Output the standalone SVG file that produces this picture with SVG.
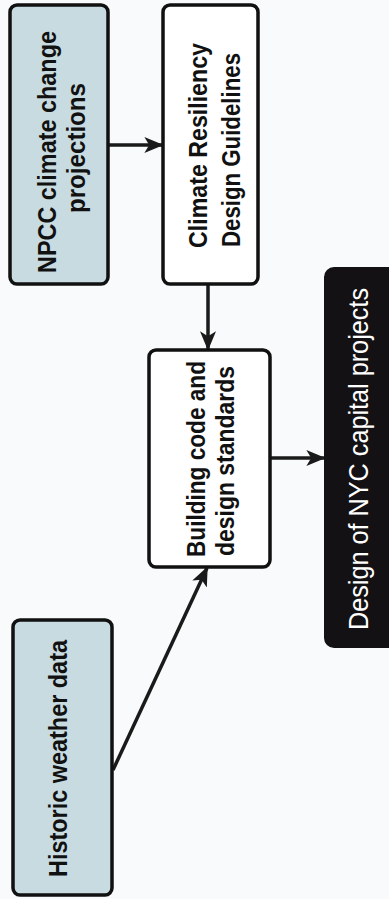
<svg xmlns="http://www.w3.org/2000/svg" width="389" height="899" viewBox="0 0 389 899">
<style>
.box{stroke:#111;stroke-width:3.5;}
.blue{fill:#c8dbe0;}
.white{fill:#ffffff;}
.black{fill:#141114;stroke:#141114;stroke-width:2;}
.lbl{font-family:"Liberation Sans",Arial,sans-serif;font-weight:bold;font-size:26px;fill:#111;}
.lblw{font-family:"Liberation Sans",Arial,sans-serif;font-size:28px;fill:#ffffff;}
.conn{stroke:#1a1a1a;stroke-width:3.5;fill:none;}
</style>
<defs>
<marker id="ah" viewBox="0 0 12 10" refX="11" refY="5" markerWidth="5.5" markerHeight="5.5" orient="auto" markerUnits="strokeWidth">
<path d="M0,0 L12,5 L0,10 L3,5 Z" fill="#1a1a1a"/>
</marker>
</defs>
<rect width="389" height="899" fill="#f8fafb"/>
<g id="connectors">
<line class="conn" x1="108" y1="145" x2="162" y2="145" marker-end="url(#ah)"/>
<line class="conn" x1="208" y1="284" x2="208" y2="349" marker-end="url(#ah)"/>
<line class="conn" x1="270" y1="458" x2="324" y2="458" marker-end="url(#ah)"/>
<line class="conn" x1="113" y1="770" x2="207" y2="568" marker-end="url(#ah)"/>
</g>
<g id="npcc">
<rect class="box blue" x="10" y="5" width="98" height="279" rx="7"/>
<text class="lbl" transform="translate(56,152) rotate(-90)" text-anchor="middle" textLength="242" lengthAdjust="spacingAndGlyphs">NPCC climate change</text>
<text class="lbl" transform="translate(85,148) rotate(-90)" text-anchor="middle" textLength="130" lengthAdjust="spacingAndGlyphs">projections</text>
</g>
<g id="crdg">
<rect class="box white" x="163" y="5" width="95" height="279" rx="7"/>
<text class="lbl" transform="translate(207,145.5) rotate(-90)" text-anchor="middle" textLength="205" lengthAdjust="spacingAndGlyphs">Climate Resiliency</text>
<text class="lbl" transform="translate(240,150) rotate(-90)" text-anchor="middle" textLength="194" lengthAdjust="spacingAndGlyphs">Design Guidelines</text>
</g>
<g id="building">
<rect class="box white" x="149" y="350" width="121" height="217" rx="7"/>
<text class="lbl" transform="translate(205,459) rotate(-90)" text-anchor="middle" textLength="196" lengthAdjust="spacingAndGlyphs">Building code and</text>
<text class="lbl" transform="translate(234,461) rotate(-90)" text-anchor="middle" textLength="190" lengthAdjust="spacingAndGlyphs">design standards</text>
</g>
<g id="historic">
<rect class="box blue" x="13" y="620" width="99" height="275" rx="7"/>
<text class="lbl" transform="translate(67,758.5) rotate(-90)" text-anchor="middle" textLength="237" lengthAdjust="spacingAndGlyphs">Historic weather data</text>
</g>
<g id="nyc">
<rect class="black" x="325" y="268" width="72" height="379" rx="9"/>
<text class="lblw" transform="translate(368,459) rotate(-90)" text-anchor="middle" textLength="342" lengthAdjust="spacingAndGlyphs">Design of NYC capital projects</text>
</g>
</svg>
